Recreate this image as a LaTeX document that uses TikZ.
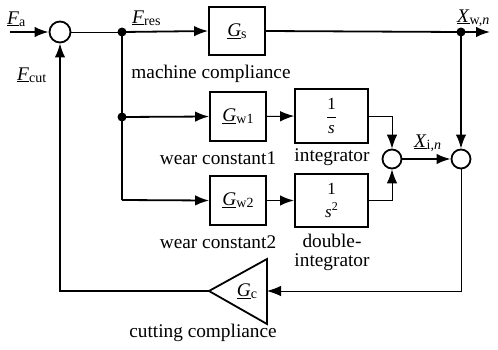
\documentclass[tikz,border=0pt]{standalone}
\usepackage{fontspec}
\setmainfont{Liberation Serif}
\newfontfamily\tnr{Liberation Serif}
\usetikzlibrary{arrows.meta}
\newcommand\uvar[2]{\underline{\textit{#1}}\raisebox{-0.25ex}{\fontsize{14}{14}\selectfont #2}}
\begin{document}
\begin{tikzpicture}[x=1pt,y=-1pt, font=\tnr\fontsize{19.3}{22}\selectfont,
  blk/.style={draw, line width=1.8pt, minimum width=56pt, minimum height=49pt, inner sep=0pt},
  intblk/.style={blk, minimum width=73pt, minimum height=54pt, font=\tnr\fontsize{17}{19}\selectfont},
  sumc/.style={draw, circle, line width=1.8pt, minimum size=19pt, inner sep=0pt},
  dot/.style={circle, fill, inner sep=0pt, minimum size=9pt},
  thk/.style={line width=1.8pt},
  thn/.style={line width=1pt},
  arr/.style={-{Latex[length=14pt,width=10.5pt]}},
  lbl/.style={inner sep=0pt}]
\useasboundingbox (0,0) rectangle (498,349);

% nodes
\node[sumc, minimum size=21pt] (s1) at (60,32) {};
\node[sumc] (s2) at (392,159) {};
\node[sumc] (s3) at (461,159) {};
\node[dot] (d1) at (122,32) {};
\node[dot] (d2) at (122,117) {};
\node[dot] (dx) at (461,32) {};
\coordinate (c3) at (122,200);
\coordinate (fa) at (10,32);
\coordinate (xout) at (490,32);

\node[blk, minimum height=48pt] (gs) at (237,31) {\uvar{G}{s}};
\node[blk] (gw1) at (238,116.5) {\uvar{G}{w1}};
\node[blk] (gw2) at (238,200.5) {\uvar{G}{w2}};
\node[intblk] (i1) at (331.5,116) {$\displaystyle\frac{\mbox{1}}{\mbox{\itshape s}}$};
\node[intblk, minimum height=53pt, align=center] (i2) at (331.5,200.5) {1\\[4pt]\textit{s}\raisebox{0.9ex}{\fontsize{12}{12}\selectfont 2}};

% triangle
\coordinate (gcout) at (209,291);
\coordinate (gcin) at (267,291);
\draw[thk, line join=miter] (gcout) -- (267,259) -- (267,324) -- cycle;
\node[lbl] (gc) at (247,291) {\uvar{G}{c}};

% labels
\node[lbl, anchor=west] (lfa) at (7,19) {\uvar{F}{a}};
\node[lbl, anchor=west] (lfres) at (132,18) {\uvar{F}{res}};
\node[lbl, anchor=west] (lfcut) at (17,75) {\uvar{F}{cut}};
\node[lbl, anchor=west] (lxw) at (457,18) {\uvar{X}{w,\textit{n}}};
\node[lbl, anchor=west] (lxi) at (414,143) {\uvar{X}{i,\textit{n}}};
\node[lbl] (t1) at (211,74) {machine compliance};
\node[lbl] (t2) at (218,158) {wear constant1};
\node[lbl] (t3) at (332,157) {integrator};
\node[lbl] (t4) at (218,242) {wear constant2};
\node[lbl, align=center] (t5) at (332,252) {double-\\[-3pt]integrator};
\node[lbl] (t6) at (203,333) {cutting compliance};

% connectors
\draw[thk, arr] (fa) -- (s1.west);
\draw[thn] (s1.east) -- (d1.center);
\draw[thk, arr] (d1.center) -- (gs.west);
\draw[thk] (gs.east) -- (dx.center);
\draw[thk, arr] (dx.center) -- (xout);
\draw[thk, arr] (dx.center) -- (s3.north);
\draw[thk] (d1.center) -- (d2.center) -- (c3);
\draw[thk, arr] (c3) -- (gw2.west);
\draw[thk, arr] (d2.center) -- (gw1.west);
\draw[thn, arr] (gw1.east) -- (i1.west);
\draw[thk, arr] (gw2.east) -- (i2.west);
\draw[thn, arr] (i1.east) -| (s2.north);
\draw[thn, arr] (i2.east) -| (s2.south);
\draw[thk, arr] (s2.east) -- (s3.west);
\draw[thn, arr] (s3.south) |- (gcin);
\draw[thk, arr] (gcout) -| (s1.south);
\end{tikzpicture}
\end{document}
